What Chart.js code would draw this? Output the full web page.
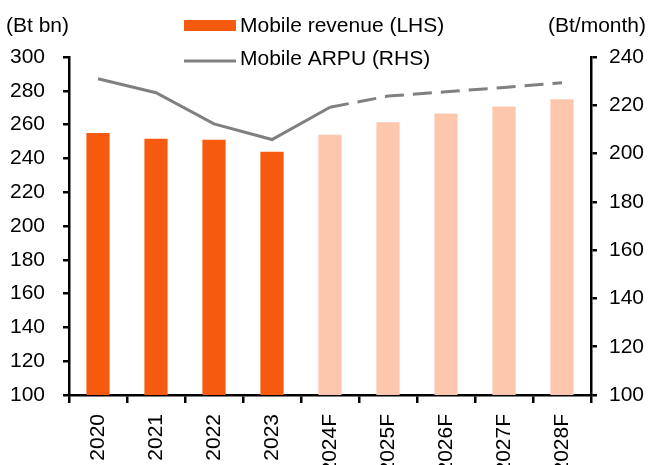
<!DOCTYPE html>
<html>
<head>
<meta charset="utf-8">
<script src="https://cdn.jsdelivr.net/npm/chart.js@4"></script>
<style>
  html, body { margin: 0; padding: 0; background: #fff; overflow: hidden; }
  #wrap { width: 648px; height: 465px; }
</style>
</head>
<body>
<div id="wrap"><canvas id="myChart" width="648" height="465"></canvas></div>
<script>
// data
const years = ['2020', '2021', '2022', '2023', '2024F', '2025F', '2026F', '2027F', '2028F'];
const mobile_revenue = [255, 251.6, 251, 244, 254, 261.4, 266.6, 270.7, 275];
const mobile_arpu = [231, 225.2, 212.3, 205.8, 219.2, 223.8, 225.6, 227.4, 229.3];
const lhs_ticks = {min: 100, max: 300, step: 20};
const rhs_ticks = {min: 100, max: 240, step: 20};
const lhs_title = '(Bt bn)';
const rhs_title = '(Bt/month)';

const ORANGE = '#f55a0e';
const PEACH = '#fdc7ae';
const GREY = '#808080';
const FONT = "'Liberation Sans', Arial, sans-serif";

Chart.defaults.font.family = FONT;
Chart.defaults.font.size = 21;
Chart.defaults.color = '#000';

const isForecast = i => years[i].endsWith('F');

// legend in two rows + axis titles, drawn by hand
const extras = {
    id: 'extras',
    afterDraw(chart) {
        const c = chart.ctx;
        c.save();
        c.font = '21px ' + FONT;
        c.fillStyle = '#000';
        c.textBaseline = 'middle';
        c.textAlign = 'left';
        c.fillText(lhs_title, 6, 26);
        c.textAlign = 'right';
        c.fillText(rhs_title, 646, 26);

        const ds = chart.data.datasets;
        c.textAlign = 'left';
        c.fillStyle = ORANGE;
        c.fillRect(184, 20, 52, 11);
        c.fillStyle = '#000';
        c.fillText(ds[0].label, 240, 26);

        c.strokeStyle = GREY;
        c.lineWidth = 3;
        c.beginPath();
        c.moveTo(184, 61);
        c.lineTo(236, 61);
        c.stroke();
        c.fillText(ds[1].label, 240, 59);
        c.restore();
    }
};

let ctx = document.getElementById('myChart').getContext('2d');
let wykres = new Chart(ctx, {
    type: 'bar',
    data: {
        labels: years,
        datasets: [
            {
                label: 'Mobile revenue (LHS)',
                data: mobile_revenue,
                yAxisID: 'yL',
                order: 2,
                backgroundColor: years.map((y, i) => isForecast(i) ? PEACH : ORANGE),
                barPercentage: 0.4,
                categoryPercentage: 1
            },
            {
                type: 'line',
                label: 'Mobile ARPU (RHS)',
                data: mobile_arpu,
                yAxisID: 'yR',
                order: 1,
                borderColor: GREY,
                borderWidth: 3,
                pointRadius: 0,
                tension: 0,
                segment: {
                    borderDash: s => isForecast(s.p0DataIndex) ? [19, 9] : undefined
                }
            }
        ]
    },
    options: {
        responsive: false,
        animation: false,
        layout: {padding: {top: 57, left: 0, right: 0, bottom: 0}},
        plugins: {legend: {display: false}, tooltip: {enabled: false}},
        scales: {
            x: {
                offset: true,
                grid: {offset: true, drawOnChartArea: false, drawTicks: true, tickLength: 8, color: '#000', lineWidth: 2.5},
                border: {display: true, color: '#000', width: 2.5},
                ticks: {minRotation: 90, maxRotation: 90, padding: 11, autoSkip: false},
                afterFit(scale) { scale.height = 70; }
            },
            yL: {
                position: 'left',
                min: lhs_ticks.min,
                max: lhs_ticks.max,
                ticks: {stepSize: lhs_ticks.step, padding: 18},
                grid: {drawOnChartArea: false, tickLength: 6, color: '#000', lineWidth: 2.5},
                border: {display: true, color: '#000', width: 2.5},
                afterFit(scale) { scale.width = 69; }
            },
            yR: {
                position: 'right',
                min: rhs_ticks.min,
                max: rhs_ticks.max,
                ticks: {stepSize: rhs_ticks.step, padding: 12},
                grid: {drawOnChartArea: false, tickLength: 6, color: '#000', lineWidth: 2.5},
                border: {display: true, color: '#000', width: 2.5},
                afterFit(scale) { scale.width = 57; }
            }
        }
    },
    plugins: [extras]
});
</script>
</body>
</html>
